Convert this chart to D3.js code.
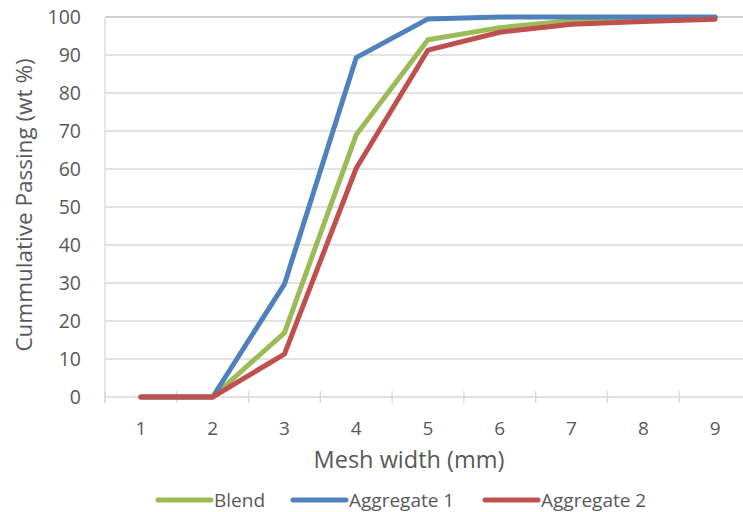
<!DOCTYPE html>
<html>
<head>
<meta charset="utf-8">
<script src="https://cdn.jsdelivr.net/npm/d3@7"></script>
<style>
  html, body { margin: 0; padding: 0; background: #fff; }
  svg text { font-family: "Open Sans", sans-serif; fill: #595959; }
</style>
</head>
<body>
<svg id="chart" width="743" height="512"></svg>
<script>
// Sieve sizes (mm) and cumulative passing (wt %) per material
const meshWidths = [1, 2, 3, 4, 5, 6, 7, 8, 9];
const blend      = [0, 0, 16.9, 69, 94, 97.2, 99, 99.5, 99.8];
const aggregate1 = [0, 0, 29.7, 89.3, 99.5, 100, 100, 100, 100];
const aggregate2 = [0, 0, 11.3, 60.2, 91.3, 96, 98.1, 98.8, 99.4];
const yTicks     = [0, 10, 20, 30, 40, 50, 60, 70, 80, 90, 100];

const seriesList = [
  { name: "Blend",       values: blend,      color: "#9BBB59" },
  { name: "Aggregate 1", values: aggregate1, color: "#4F81BD" },
  { name: "Aggregate 2", values: aggregate2, color: "#C0504D" }
];

const svg = d3.select("#chart");
const margin = { left: 105, top: 17, right: -8, bottom: 115 };
const W = 743, H = 512;
const x0 = margin.left, x1 = W - margin.right;
const y0 = H - margin.bottom, y1 = margin.top;

const x = d3.scaleBand().domain(meshWidths).range([x0, x1]);
const y = d3.scaleLinear().domain([0, 100]).range([y0, y1]);

// horizontal gridlines
svg.append("g")
  .selectAll("line")
  .data(yTicks.filter(t => t > 0))
  .join("line")
  .attr("x1", x0).attr("x2", x1)
  .attr("y1", d => y(d)).attr("y2", d => y(d))
  .attr("stroke", d => d === 100 ? "#bfbfbf" : "#d9d9d9")
  .attr("stroke-width", 1.3);

// vertical axis line
svg.append("line")
  .attr("x1", x0).attr("x2", x0)
  .attr("y1", y1).attr("y2", y0 + 6)
  .attr("stroke", "#d9d9d9").attr("stroke-width", 1.3);

// category axis with crossing ticks at band boundaries
const xAxis = svg.append("g").attr("transform", `translate(0,${y0})`);
xAxis.append("line")
  .attr("x1", x0).attr("x2", x1)
  .attr("stroke", "#d9d9d9").attr("stroke-width", 1.3);
xAxis.selectAll("line.tick")
  .data(meshWidths)
  .join("line")
  .attr("class", "tick")
  .attr("x1", d => x(d)).attr("x2", d => x(d))
  .attr("y1", -6).attr("y2", 6)
  .attr("stroke", "#d9d9d9").attr("stroke-width", 1.3);
xAxis.selectAll("text")
  .data(meshWidths)
  .join("text")
  .attr("x", d => x(d) + x.bandwidth() / 2)
  .attr("y", 38)
  .attr("text-anchor", "middle")
  .attr("font-size", 19)
  .text(d => d);

// value axis labels
const yAxis = d3.axisLeft(y).tickValues(yTicks).tickSize(0).tickPadding(24);
svg.append("g")
  .attr("transform", `translate(${x0},0)`)
  .call(yAxis)
  .call(g => g.select(".domain").remove())
  .selectAll("text")
  .attr("font-size", 19.5)
  .style("font-family", "'Open Sans', sans-serif")
  .attr("fill", "#595959");

// axis titles
svg.append("text")
  .attr("x", 409).attr("y", 468)
  .attr("text-anchor", "middle")
  .attr("font-size", 23.5)
  .text("Mesh width (mm)");
svg.append("text")
  .attr("transform", `translate(32,205) rotate(-90)`)
  .attr("text-anchor", "middle")
  .attr("font-size", 22.5)
  .text("Cummulative Passing (wt %)");

// series lines
const line = d3.line()
  .x((d, i) => x(meshWidths[i]) + x.bandwidth() / 2)
  .y(d => y(d));
svg.append("g")
  .selectAll("path")
  .data(seriesList)
  .join("path")
  .attr("d", d => line(d.values))
  .attr("fill", "none")
  .attr("stroke", d => d.color)
  .attr("stroke-width", 5)
  .attr("stroke-linejoin", "round")
  .attr("stroke-linecap", "round");

// legend
const legendX = [158, 293, 485];
const legend = svg.append("g")
  .selectAll("g")
  .data(seriesList)
  .join("g")
  .attr("transform", (d, i) => `translate(${legendX[i]},500)`);
legend.append("line")
  .attr("x1", 0).attr("x2", 53)
  .attr("stroke", d => d.color)
  .attr("stroke-width", 5)
  .attr("stroke-linecap", "round");
legend.append("text")
  .attr("x", 56).attr("y", 7)
  .attr("font-size", 19)
  .text(d => d.name);
</script>
</body>
</html>
